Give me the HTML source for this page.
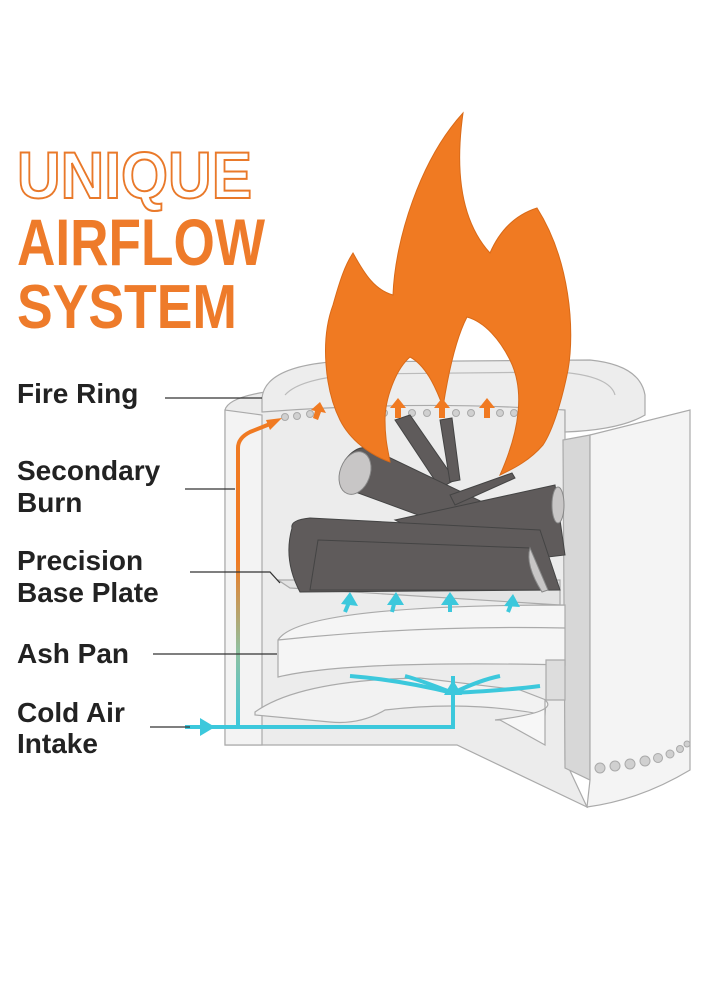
<!DOCTYPE html>
<html><head><meta charset="utf-8"><style>
html,body{margin:0;padding:0;background:#fff;}
svg{display:block;}
</style></head><body>
<svg width="725" height="989" viewBox="0 0 725 989" xmlns="http://www.w3.org/2000/svg">
<defs>
<linearGradient id="g1" x1="0" y1="0" x2="0" y2="1">
<stop offset="0" stop-color="#f07a22"/><stop offset="0.45" stop-color="#f07a22"/><stop offset="0.75" stop-color="#8fc0a0"/><stop offset="1" stop-color="#3cc8dc"/>
</linearGradient>
</defs>
<!-- title -->
<g font-family="Liberation Sans, sans-serif" font-weight="bold">
<text x="17" y="198" font-size="66" fill="#fff" stroke="#e9792a" stroke-width="2" textLength="235" lengthAdjust="spacingAndGlyphs">UNIQUE</text>
<text x="17" y="265" font-size="66" fill="#ee7b2a" textLength="248" lengthAdjust="spacingAndGlyphs">AIRFLOW</text>
<text x="17" y="328" font-size="62" fill="#ee7b2a" textLength="220" lengthAdjust="spacingAndGlyphs">SYSTEM</text>
</g>
<!-- labels -->
<g font-family="Liberation Sans, sans-serif" font-weight="bold" font-size="28" fill="#222">
<text x="17" y="403">Fire Ring</text>
<text x="17" y="480">Secondary</text>
<text x="17" y="512">Burn</text>
<text x="17" y="570">Precision</text>
<text x="17" y="602">Base Plate</text>
<text x="17" y="663">Ash Pan</text>
<text x="17" y="722">Cold Air</text>
<text x="17" y="753">Intake</text>
</g>
<!-- stove body -->
<g stroke="#aaa" stroke-width="1.2">
<path d="M225 410 Q228 398 265 392 L565 392 L565 760 L587 807 L457 745 L225 745 Z" fill="#ececec"/>
<path d="M225 410 L225 745 L262 745 L262 415 Z" fill="#f3f3f3"/>
<path d="M563 440 L590 435 L590 780 L565 768 Z" fill="#d7d7d7"/>
<path d="M590 435 L690 410 L690 770 Q640 800 587 807 L590 780 Z" fill="#f4f4f4"/>
<!-- ring -->
<path d="M262 398 Q265 368 330 362 L590 360 Q640 365 645 395 L645 415 Q620 430 565 432 L565 410 Q420 400 262 412 Z" fill="#ededed"/>
<path d="M285 395 Q300 378 360 374 L560 372 Q610 376 615 395" fill="none" stroke="#bbb"/>
<!-- base plate edge -->
<path d="M278 580 L560 580 L560 605 L290 588 Z" fill="#e3e3e3"/>
<!-- ash pan -->
<path d="M278 640 Q300 605 565 605 L565 665 Q350 660 278 677 Z" fill="#f5f5f5"/>
<path d="M278 640 Q420 625 565 628" fill="none"/>
<path d="M546 660 L565 660 L565 700 L546 700 Z" fill="#ddd"/>
<!-- bottom bowl -->
<path d="M255 712 Q300 680 420 678 L520 690 L546 700 L545 715 Q470 700 385 710 Q360 725 330 722 L255 715 Z" fill="#f2f2f2"/>
<path d="M495 720 Q560 712 545 700 L545 745 L500 720 Z" fill="#f7f7f7"/>
</g>
<!-- holes -->
<g fill="#d0d0d0" stroke="#aaa" stroke-width="1">
<circle cx="285" cy="417" r="3.5"/><circle cx="297" cy="416" r="3.5"/><circle cx="310" cy="414" r="3.5"/>
<circle cx="384" cy="413" r="3.5"/><circle cx="412" cy="413" r="3.5"/><circle cx="427" cy="413" r="3.5"/><circle cx="456" cy="413" r="3.5"/><circle cx="471" cy="413" r="3.5"/><circle cx="500" cy="413" r="3.5"/><circle cx="514" cy="413" r="3.5"/>
<circle cx="600" cy="768" r="5"/><circle cx="615" cy="766" r="5"/><circle cx="630" cy="764" r="5"/><circle cx="645" cy="761" r="5"/><circle cx="658" cy="758" r="4.5"/><circle cx="670" cy="754" r="4"/><circle cx="680" cy="749" r="3.5"/><circle cx="687" cy="744" r="3"/>
</g>
<!-- logs -->
<g fill="#5f5b5b" stroke="#444" stroke-width="1">
<path d="M395 420 L410 415 L455 480 L440 488 Z"/>
<path d="M440 420 L452 418 L460 480 L450 482 Z"/>
<path d="M345 460 Q360 440 378 452 L520 520 L500 545 L350 490 Z"/>
<path d="M395 520 L555 485 L565 555 L480 565 Z"/>
<path d="M292 528 Q290 520 310 518 L540 530 L560 590 L300 592 Q283 560 292 528 Z"/>
<path d="M318 540 L530 548 L548 590 L310 590 Z"/>
<path d="M450 495 L512 473 L515 478 L455 505 Z"/>
</g>
<g fill="#c8c6c6" stroke="#888">
<ellipse cx="355" cy="473" rx="15" ry="22" transform="rotate(20 355 473)"/>
<path d="M530 548 L548 590 L542 592 Q525 565 530 548 Z"/>
<ellipse cx="558" cy="505" rx="6" ry="18"/>
</g>
<!-- flame -->
<path d="M463 113 C455 170 460 220 490 253 C500 230 515 215 537 208 C570 260 575 330 568 370 C562 400 553 430 543 445 C530 460 515 468 500 475 C520 430 525 390 510 360 C500 340 485 322 467 317 C455 340 448 375 443 407 C435 385 425 365 410 357 C395 370 385 400 385 420 C385 440 388 450 390 462 C370 455 350 440 340 420 C325 390 320 340 333 305 C340 280 345 265 353 253 C365 275 375 290 393 295 C395 240 420 160 463 113 Z" fill="#f07a22" stroke="#d96a18" stroke-width="1"/>
<!-- orange arrows -->
<g fill="#f07a22">
<path d="M398 398 L406 408 L401 408 L401 418 L395 418 L395 408 L390 408 Z"/>
<path d="M442 398 L450 408 L445 408 L445 418 L439 418 L439 408 L434 408 Z"/>
<path d="M487 398 L495 408 L490 408 L490 418 L484 418 L484 408 L479 408 Z"/>
<path d="M320 402 L326 413 L321 412 L318 420 L313 418 L315 411 L311 410 Z"/>
</g>
<!-- secondary burn path -->
<path d="M238 727 L238 448 Q238 438 250 432 L270 424" fill="none" stroke="url(#g1)" stroke-width="4"/>
<path d="M282 418 L270 430 L266 420 Z" fill="#f07a22"/>
<!-- cyan -->
<g stroke="#3cc8dc" stroke-width="4" fill="none">
<path d="M185 727 L453 727 L453 693"/>
<path d="M453 693 Q400 680 350 676"/>
<path d="M453 693 Q420 680 405 676"/>
<path d="M453 693 L453 676"/>
<path d="M453 693 Q480 680 500 676"/>
<path d="M453 693 Q510 690 540 686"/>
<path d="M345 612 L350 600"/><path d="M392 612 L395 600"/><path d="M450 612 L450 600"/><path d="M508 612 L512 602"/>
</g>
<g fill="#3cc8dc">
<path d="M200 718 L215 727 L200 736 Z"/>
<path d="M453 680 L462 695 L444 695 Z"/>
<path d="M350 592 L358 606 L341 604 Z"/>
<path d="M396 592 L404 605 L387 605 Z"/>
<path d="M450 592 L459 605 L441 605 Z"/>
<path d="M513 594 L520 607 L504 606 Z"/>
</g>
<!-- leader lines -->
<g stroke="#333" stroke-width="1.3" fill="none">
<path d="M165 398 L262 398"/>
<path d="M185 489 L235 489"/>
<path d="M190 572 L270 572 L280 583"/>
<path d="M153 654 L277 654"/>
<path d="M150 727 L190 727"/>
</g>
</svg>
</body></html>
